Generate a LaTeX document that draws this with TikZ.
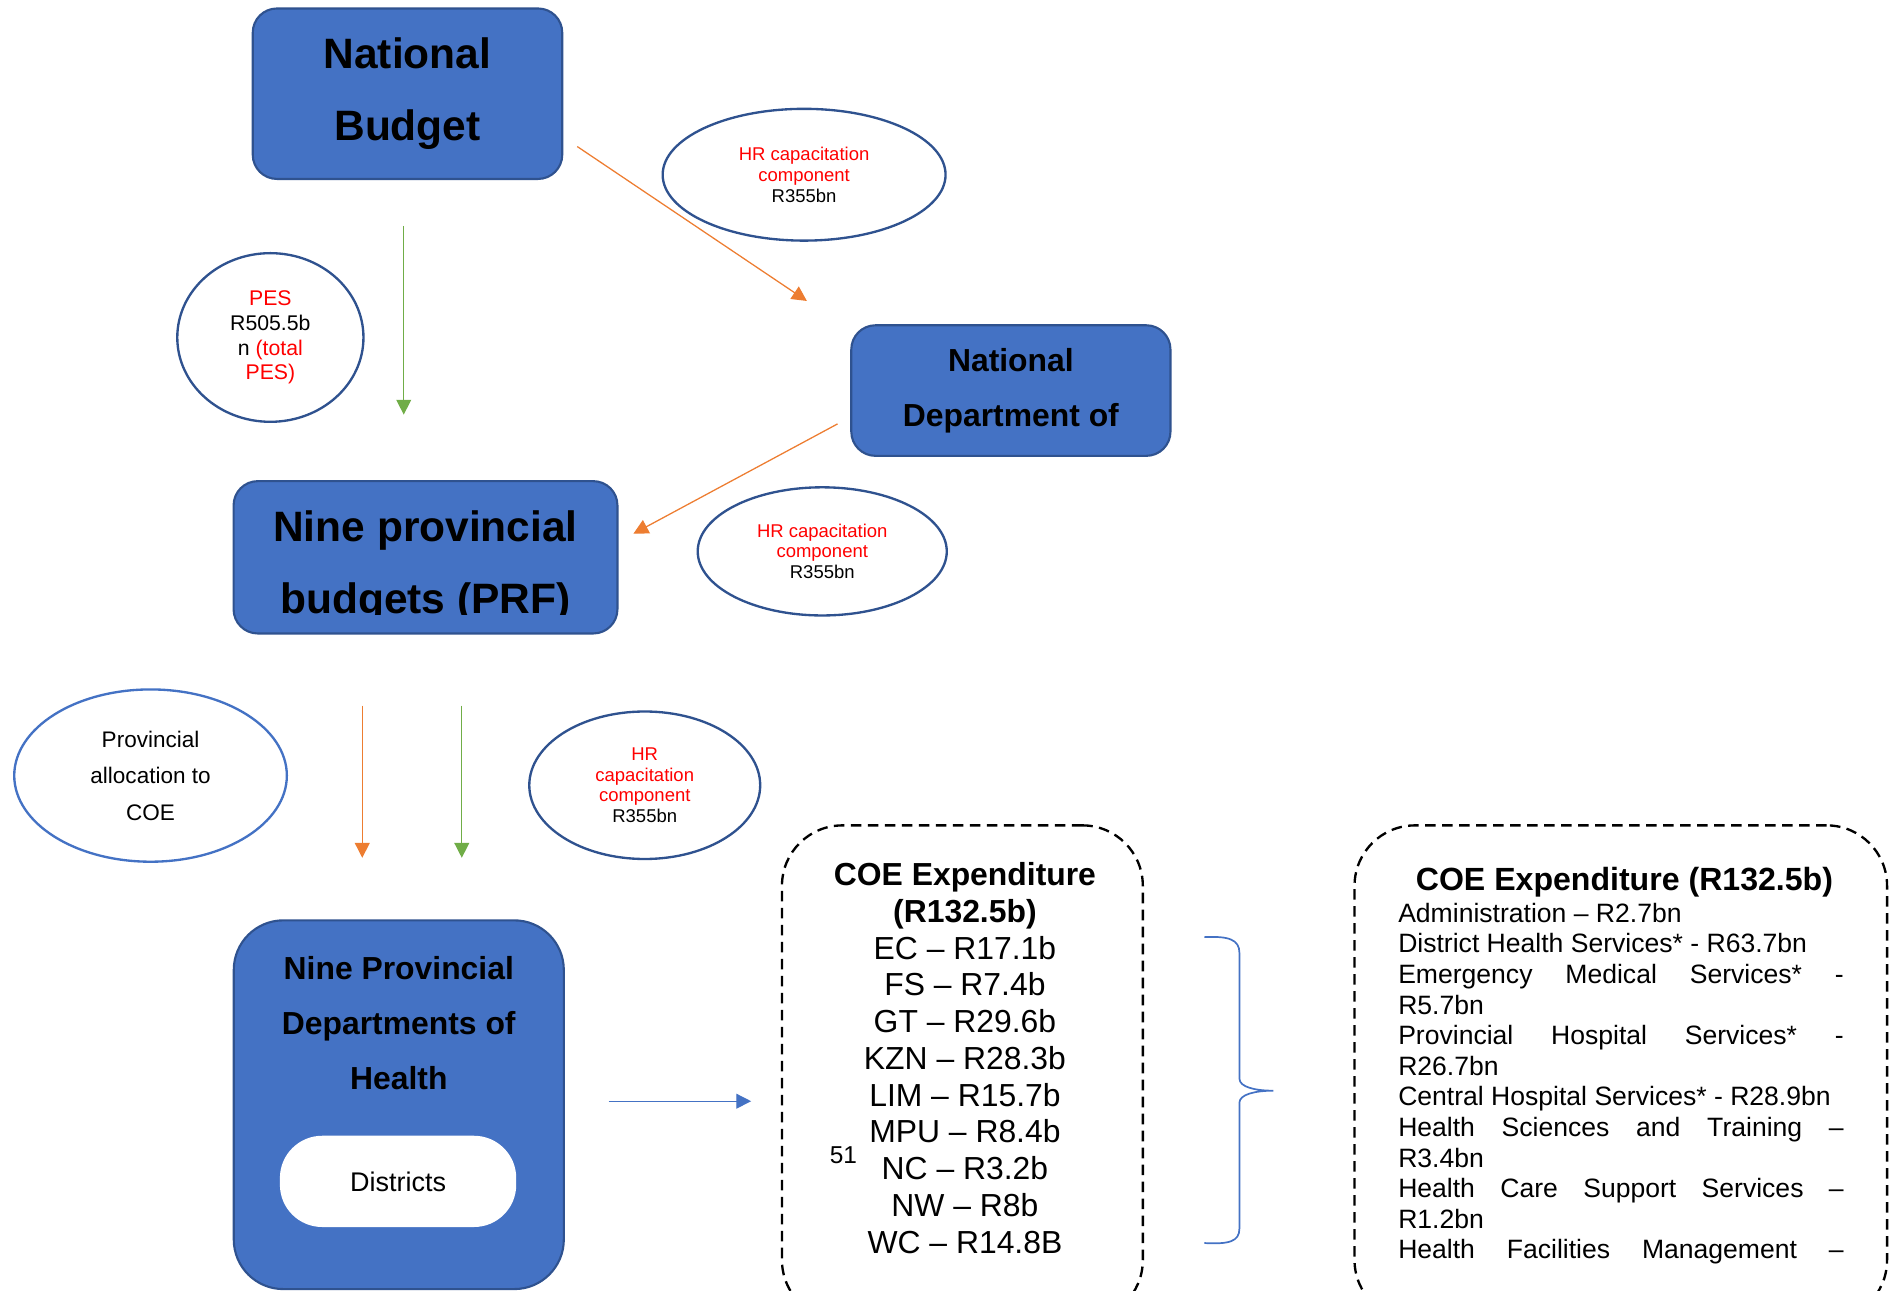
\documentclass[tikz,border=0pt]{standalone}
\usepackage{fontspec}
\setmainfont{Liberation Sans}
\usetikzlibrary{shapes.geometric,arrows.meta}
\definecolor{boxfill}{HTML}{4472C4}
\definecolor{boxline}{HTML}{2F528F}
\definecolor{floworange}{HTML}{ED7D31}
\definecolor{flowgreen}{HTML}{70AD47}
\definecolor{hrred}{HTML}{FF0000}
\begin{document}
\begin{tikzpicture}[x=0.02cm, y=-0.02cm,
	box/.style={draw=boxline, fill=boxfill, line width=1pt, rounded corners=0.4cm},
	bubble/.style={shape=ellipse, draw=boxline, line width=1.1pt, align=center, inner sep=0pt},
	dashbox/.style={draw=black, line width=1.1pt, dash pattern=on 5pt off 3pt, rounded corners=1cm},
	flow/.style={-{Triangle[length=7pt,width=7pt]}, line width=0.6pt},
	hr/.style={font=\fontsize{8.7}{9.8}\selectfont}]
	\useasboundingbox (0,0) rectangle (1568,1067);
	\clip (0,0) rectangle (1568,1067);
	
	\node[box, minimum width=5.12cm, minimum height=2.82cm, align=center, font=\fontsize{20}{33.7}\selectfont\bfseries] (A) at (337,77.5) {National\\Budget};
	\node[box, minimum width=5.28cm, minimum height=2.16cm, align=center, font=\fontsize{15}{26}\selectfont\bfseries] (B) at (836,323) {National\\Department of};
	\node[box, minimum width=6.35cm, minimum height=2.52cm] (C) at (351.9,460.9) {};
	\begin{scope}
		\clip (193,398) rectangle (511,508.5);
		\node[anchor=north, inner sep=0pt, align=center, font=\fontsize{20}{33.7}\selectfont\bfseries] (C-text) at (351.9,422) {Nine provincial\\budgets (PRF)};
	\end{scope}
	\node[box, rounded corners=0.82cm, minimum width=5.46cm, minimum height=6.1cm] (D) at (329.8,913.6) {};
	\node[anchor=north, inner sep=0pt, align=center, font=\fontsize{15}{26}\selectfont\bfseries] (D-text) at (329.8,790.2) {Nine Provincial\\Departments of\\Health};
	\node[fill=white, rounded corners=0.7cm, minimum width=3.91cm, minimum height=1.51cm, font=\fontsize{12.7}{15}\selectfont] (E) at (329.2,977) {Districts};
	
	\node[bubble, minimum width=3.08cm, minimum height=2.79cm, font=\fontsize{10}{11.6}\selectfont] (P) at (223.6,279.1) {\textcolor{hrred}{PES}\\R505.5b\\n \textcolor{hrred}{(total}\\\textcolor{hrred}{PES)}};
	\node[bubble, hr, minimum width=4.68cm, minimum height=2.18cm] (H1) at (665,144.5) {\textcolor{hrred}{HR capacitation}\\\textcolor{hrred}{component}\\R355bn};
	\node[bubble, hr, minimum width=4.12cm, minimum height=2.12cm] (H2) at (680,456) {\textcolor{hrred}{HR capacitation}\\\textcolor{hrred}{component}\\R355bn};
	\node[bubble, hr, minimum width=3.82cm, minimum height=2.44cm] (H3) at (533.2,649.4) {\textcolor{hrred}{HR}\\\textcolor{hrred}{capacitation}\\\textcolor{hrred}{component}\\R355bn};
	\node[bubble, draw=boxfill, minimum width=4.51cm, minimum height=2.85cm, font=\fontsize{10.6}{17.2}\selectfont] (G) at (124.5,641.4) {Provincial\\allocation to\\COE};
	
	\node[dashbox, minimum width=5.97cm, minimum height=8.19cm] (K) at (795.9,887.3) {};
	\node[anchor=north, inner sep=0pt, align=center, font=\fontsize{15}{17.3}\selectfont] (K-text) at (798,713) {\textbf{COE Expenditure}\\\textbf{(R132.5b)}\\EC – R17.1b\\FS – R7.4b\\GT – R29.6b\\KZN – R28.3b\\LIM – R15.7b\\MPU – R8.4b\\NC – R3.2b\\NW – R8b\\WC – R14.8B};
	\node[anchor=base, inner sep=0pt, font=\fontsize{11.5}{13}\selectfont] (N) at (697.5,962.2) {51};
	
	\node[dashbox, minimum width=8.81cm, minimum height=8.19cm] (L) at (1340.4,887.3) {};
	\node[anchor=base, inner sep=0pt, font=\fontsize{15.1}{17}\selectfont\bfseries] (L-head) at (1343.4,736.1) {COE Expenditure (R132.5b)};
	\node[anchor=north west, inner sep=0pt, align=left, font=\fontsize{12.5}{14.4}\selectfont] (L-text) at (1156,746.5) {Administration – R2.7bn\\
		District Health Services* - R63.7bn\\
		\makebox[7.37cm][s]{Emergency Medical Services* -}\\
		R5.7bn\\
		\makebox[7.37cm][s]{Provincial Hospital Services* -}\\
		R26.7bn\\
		Central Hospital Services* - R28.9bn\\
		\makebox[7.37cm][s]{Health Sciences and Training –}\\
		R3.4bn\\
		\makebox[7.37cm][s]{Health Care Support Services –}\\
		R1.2bn\\
		\makebox[7.37cm][s]{Health Facilities Management –}};
	
	\coordinate (a1) at (333.9,186.9);
	\coordinate (a2) at (333.9,342.9);
	\coordinate (b1) at (477.4,121.2);
	\coordinate (b2) at (667.3,248.9);
	\coordinate (c1) at (692.6,350.6);
	\coordinate (c2) at (523.8,441.4);
	\coordinate (d1) at (299.6,583.5);
	\coordinate (d2) at (299.6,709.4);
	\coordinate (e1) at (381.9,583.5);
	\coordinate (e2) at (381.9,709.4);
	\coordinate (f1) at (503.4,910.7);
	\coordinate (f2) at (621.2,910.7);
	
	\draw[flow, flowgreen] (a1) -- (a2);
	\draw[flow, floworange] (b1) -- (b2);
	\draw[flow, floworange] (c1) -- (c2);
	\draw[flow, floworange] (d1) -- (d2);
	\draw[flow, flowgreen] (e1) -- (e2);
	\draw[flow, boxfill] (f1) -- (f2);
	
	\draw[boxfill, line width=0.8pt] (996,775) .. controls (1016,774) and (1025,777) .. (1025,788) -- (1025,892) .. controls (1025,899) and (1038,902) .. (1053,902) .. controls (1038,902) and (1025,905) .. (1025,912) -- (1025,1016) .. controls (1025,1027) and (1016,1029) .. (996,1028);
\end{tikzpicture}
\end{document}
